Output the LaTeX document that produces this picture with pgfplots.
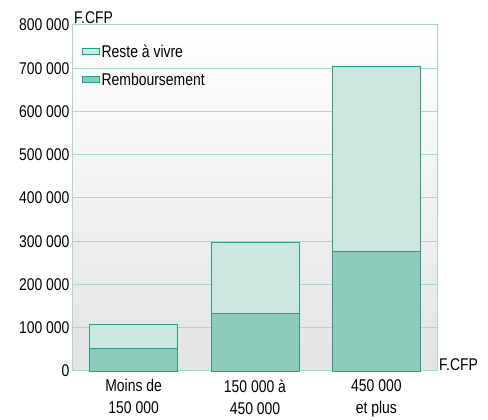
\documentclass[border=0pt]{standalone}
\usepackage{fontspec}
\setmainfont[FakeStretch=0.82]{Liberation Sans}
\usepackage{pgfplots}
\pgfplotsset{compat=1.18}
\definecolor{lightfill}{HTML}{CCE7DF}
\definecolor{darkfill}{HTML}{8CCABC}
\definecolor{edge}{HTML}{2A9D8A}
\definecolor{gridc}{HTML}{A8D8CC}

\begin{document}
\begin{tikzpicture}[font=\fontsize{17}{19}\selectfont]
\begin{axis}[
    scale only axis,
    width=364pt, height=346pt,
    ybar stacked,
    bar width=88pt,
    xmin=-0.5, xmax=2.5,
    ymin=0, ymax=800000,
    xtick=data,
    xticklabels={{Moins de\\150 000},{150 000 à\\450 000},{450 000\\et plus}},
    x tick label style={align=center, text depth=0pt, yshift=-5pt,
        font=\fontsize{17}{22}\selectfont},
    ytick={0,100000,...,800000},
    scaled y ticks=false,
    /pgf/number format/fixed,
    /pgf/number format/1000 sep={\ },
    /pgf/number format/assume math mode=true,
    major tick length=0pt,
    ymajorgrids,
    grid style={draw=gridc, line width=1pt},
    axis line style={draw=gridc, line width=1pt},
    axis background/.style={top color=white, bottom color=black!11},
    clip=false,
    reverse legend,
    area legend,
    legend style={draw=none, fill=none, at={(0.015,0.955)}, anchor=north west,
        row sep=10pt, font=\fontsize{17}{19}\selectfont},
    legend cell align=left,
]
\addplot[fill=darkfill, draw=edge, line width=0.9pt] coordinates {
    (0,51500) (1,133400) (2,277500)
};
\addplot[fill=lightfill, draw=edge, line width=0.9pt] coordinates {
    (0,55000) (1,163000) (2,427000)
};
\legend{Remboursement, Reste à vivre}
\end{axis}
\node[anchor=south west, inner sep=1pt] at (current axis.north west) {F.CFP};
\node[anchor=west, inner sep=2pt, yshift=6pt] at (current axis.south east) {F.CFP};
\path[use as bounding box] ([shift={(-73pt,-49pt)}]current axis.south west)
    rectangle ([shift={(415pt,371pt)}]current axis.south west);
\end{tikzpicture}
\end{document}
